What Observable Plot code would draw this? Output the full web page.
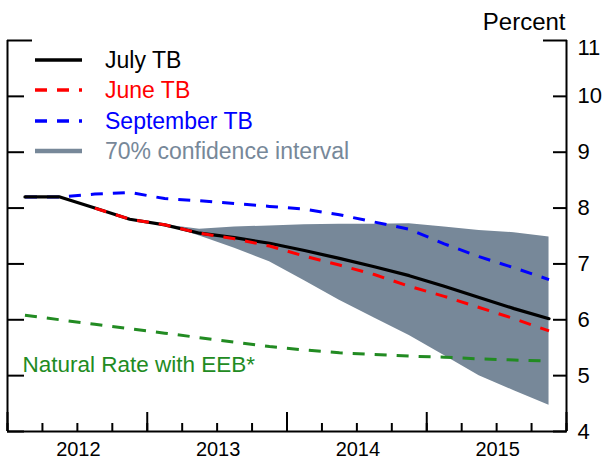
<!DOCTYPE html>
<html><head><meta charset="utf-8">
<script src="https://cdn.jsdelivr.net/npm/d3@7"></script>
<script src="https://cdn.jsdelivr.net/npm/@observablehq/plot@0.6"></script>
<style>
body{margin:0;background:#fff;}
#wrap{position:relative;width:604px;height:460px;font-family:"Liberation Sans",Arial,sans-serif;}
#legend{position:absolute;left:35px;top:45px;font-size:23px;line-height:1.15;}
.row{display:flex;align-items:center;height:30.3px;white-space:nowrap;}
.row svg{width:47px;height:8px;margin-right:23px;flex:none;}
</style></head><body><div id="wrap"><div id="chart"></div><div id="legend"></div></div>
<script>
const quarters = ["2012Q1","2012Q2","2012Q3","2012Q4","2013Q1","2013Q2","2013Q3","2013Q4",
                  "2014Q1","2014Q2","2014Q3","2014Q4","2015Q1","2015Q2","2015Q3","2015Q4"];
const julyTB  = [8.2, 8.2, 8.0, 7.8, 7.7, 7.55, 7.47, 7.37, 7.24, 7.1, 6.95, 6.79, 6.6, 6.4, 6.2, 6.02];
const juneTB  = [null, null, 8.0, 7.8, 7.7, 7.55, 7.45, 7.32, 7.14, 6.98, 6.81, 6.6, 6.42, 6.22, 6.02, 5.8];
const septTB  = [8.2, 8.2, 8.25, 8.28, 8.17, 8.13, 8.08, 8.03, 7.98, 7.88, 7.75, 7.62, 7.36, 7.13, 6.93, 6.72];
const natural = [6.08, 6.0, 5.92, 5.84, 5.76, 5.68, 5.6, 5.52, 5.46, 5.41, 5.38, 5.35, 5.33, 5.3, 5.28, 5.26];
const bandQuarters = ["2013Q1","2013Q2","2013Q3","2013Q4","2014Q1","2014Q2","2014Q3","2014Q4","2015Q1","2015Q2","2015Q3","2015Q4"];
const bandUpper = [7.7, 7.62, 7.66, 7.68, 7.7, 7.71, 7.71, 7.72, 7.66, 7.6, 7.56, 7.48];
const bandLower = [7.7, 7.5, 7.28, 7.04, 6.7, 6.35, 6.03, 5.72, 5.36, 5.0, 4.73, 4.47];
const yearLabels = ["2012","2013","2014","2015"];
const yTicks = [4,5,6,7,8,9,10];
const yTop = [11];
const noteText = [{q: "2012Q1", v: 5.06, text: "Natural Rate with EEB*"}];

const colors = {july:"#000000", june:"#ff0000", sept:"#0000ff", band:"#778899", natural:"#228B22"};

const qToX = q => +q.slice(0,4) + (+q.slice(5) - 1) / 4 + 0.125;
const rows = quarters.map((q,i) => ({x: qToX(q), july: julyTB[i], june: juneTB[i], sept: septTB[i], nat: natural[i]}));
const band = bandQuarters.map((q,i) => ({x: qToX(q), hi: bandUpper[i], lo: bandLower[i]}));
const years = yearLabels.map(Number);
const yearBounds = years.concat([years[years.length-1] + 1]);
const yearMids = years.map(y => y + 0.5);
const quarterTicks = d3.range(years[0] * 4, (years[years.length-1] + 1) * 4 + 1).map(v => v / 4);
const notes = noteText.map(d => ({x: +d.q.slice(0,4) + (+d.q.slice(5) - 1)/4, y: d.v, text: d.text}));

const dash = "12,10";
const chart = Plot.plot({
  width: 604, height: 460,
  marginLeft: 7, marginRight: 38, marginTop: 40, marginBottom: 29,
  style: {fontFamily: '"Liberation Sans", Arial, sans-serif', fontSize: "22px", background: "#fff", overflow: "visible"},
  x: {type: "linear", domain: [yearBounds[0], yearBounds[yearBounds.length-1]]},
  y: {domain: [4, 11]},
  marks: [
    Plot.areaY(band, {x: "x", y1: "lo", y2: "hi", fill: colors.band, curve: "linear"}),
    Plot.line(rows, {x: "x", y: "nat", stroke: colors.natural, strokeWidth: 3, strokeDasharray: dash, strokeLinecap: "butt"}),
    Plot.line(rows, {x: "x", y: "sept", stroke: colors.sept, strokeWidth: 3, strokeDasharray: dash, strokeLinecap: "butt"}),
    Plot.line(rows, {x: "x", y: "july", stroke: colors.july, strokeWidth: 3.2}),
    Plot.line(rows, {x: "x", y: "june", stroke: colors.june, strokeWidth: 3, strokeDasharray: dash, strokeLinecap: "butt"}),
    Plot.text(notes, {x: "x", y: "y", text: "text", textAnchor: "start", lineAnchor: "bottom", dx: 15, fill: colors.natural, fontSize: 22.5}),
    // axis lines
    Plot.ruleX([yearBounds[0], yearBounds[yearBounds.length-1]], {strokeWidth: 2}),
    Plot.ruleY([4], {strokeWidth: 2}),
    // left ticks
    Plot.axisY({anchor: "left", ticks: yTicks, tickSize: -17, tickFormat: () => "", label: null, strokeWidth: 2}),
    Plot.axisY({anchor: "left", ticks: yTop, tickSize: -25, tickFormat: () => "", label: null, strokeWidth: 2}),
    // right ticks
    Plot.axisY({anchor: "right", ticks: yTicks, tickSize: -14, tickFormat: () => "", label: null, strokeWidth: 2}),
    Plot.axisY({anchor: "right", ticks: yTop, tickSize: -24, tickFormat: () => "", label: null, strokeWidth: 2}),
    Plot.axisY({anchor: "right", ticks: yTicks, tickSize: 0, tickPadding: 11, tickFormat: d => String(d), label: null, fontSize: 22, fill: "#000"}),
    Plot.axisY({anchor: "right", ticks: yTop, tickSize: 0, tickPadding: 11, dy: 7, tickFormat: d => String(d), label: null, fontSize: 22, fill: "#000"}),
    // bottom ticks
    Plot.axisX({anchor: "bottom", ticks: quarterTicks, tickSize: -8, tickFormat: () => "", label: null, strokeWidth: 2}),
    Plot.axisX({anchor: "bottom", ticks: yearBounds, tickSize: -19, tickFormat: () => "", label: null, strokeWidth: 2}),
    Plot.axisX({anchor: "bottom", ticks: yearMids, tickSize: 0, tickPadding: 10.5, tickFormat: d => String(Math.floor(d)), label: null, fontSize: 20, fill: "#000", letterSpacing: "1.8px", dx: 1}),
    Plot.text(["Percent"], {frameAnchor: "top-right", textAnchor: "end", lineAnchor: "bottom", dy: -11, dx: -1, fontSize: 24, fill: "#000"})
  ]
});
document.getElementById("chart").appendChild(chart);

const legendItems = [
  {label: "July TB", color: colors.july, dash: null, w: 3.5},
  {label: "June TB", color: colors.june, dash: dash, w: 3.5},
  {label: "September TB", color: colors.sept, dash: dash, w: 3.5},
  {label: "70% confidence interval", color: colors.band, dash: null, w: 4.5}
];
const leg = d3.select("#legend");
legendItems.forEach(it => {
  const r = leg.append("div").attr("class", "row");
  const s = r.append("svg").attr("viewBox", "0 0 47 8");
  s.append("line").attr("x1", 0).attr("x2", 47).attr("y1", 4).attr("y2", 4)
    .attr("stroke", it.color).attr("stroke-width", it.w).attr("stroke-dasharray", it.dash);
  r.append("span").text(it.label).style("color", it.color);
});
</script></body></html>
